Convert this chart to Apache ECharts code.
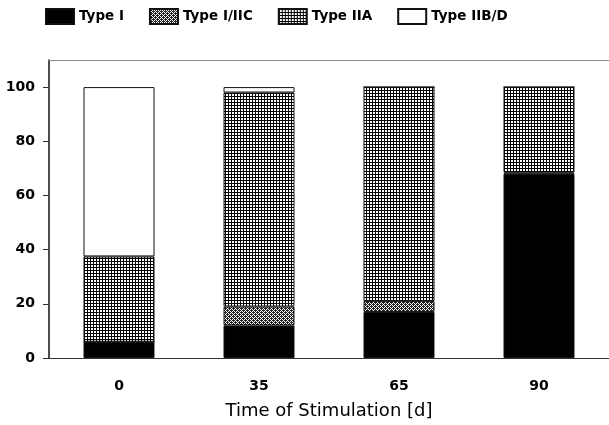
<!DOCTYPE html>
<html>
<head>
<meta charset="utf-8">
<script src="https://cdn.jsdelivr.net/npm/echarts@6/dist/echarts.min.js"></script>
<style>
  html, body { margin: 0; padding: 0; background: #fff; }
  #chart { width: 609px; height: 425px; }
</style>
</head>
<body>
<div id="chart"></div>
<script>
// Fibre-type composition (%) after days of stimulation
const days = ['0', '35', '65', '90'];
const typeI = [6, 12, 17, 68];
const typeIIIC = [0, 7, 4, 0.5];
const typeIIA = [31.5, 79, 79, 31.5];
const typeIIBD = [62.5, 2, 0, 0];
const yTicks = [0, 20, 40, 60, 80, 100];

// Small tiled canvases used as hatch fills
function makeTile(size, paint) {
  const c = document.createElement('canvas');
  c.width = size; c.height = size;
  const g = c.getContext('2d');
  g.fillStyle = '#fff';
  g.fillRect(0, 0, size, size);
  g.fillStyle = '#000';
  paint(g);
  return { image: c, repeat: 'repeat' };
}
// fine cross-hatch grid
const gridFill = makeTile(3, g => {
  g.fillRect(0, 0, 3, 1);
  g.fillRect(0, 0, 1, 3);
});
// dense stipple
const stippleFill = makeTile(4, g => {
  g.fillStyle = '#222';
  g.fillRect(0, 0, 1, 1); g.fillRect(2, 0, 1, 1);
  g.fillRect(1, 1, 1, 1); g.fillRect(3, 1, 1, 1);
  g.fillRect(0, 2, 1, 1); g.fillRect(2, 2, 1, 1);
  g.fillRect(1, 3, 1, 1); g.fillRect(3, 3, 1, 1);
  g.fillRect(1, 0, 1, 1); g.fillRect(3, 2, 1, 1);
});

const tickFont = { fontFamily: 'DejaVu Sans', fontWeight: 'bold', fontSize: 14, color: '#000' };

function bar(name, data, fill) {
  return {
    name, type: 'bar', stack: 'total', data,
    barWidth: 71,
    itemStyle: { color: fill, borderColor: '#111', borderWidth: 1 },
    emphasis: { disabled: true }
  };
}

const chart = echarts.init(document.getElementById('chart'), null, { renderer: 'canvas' });
chart.setOption({
  animation: false,
  backgroundColor: '#fff',
  legend: {
    left: 40, top: 3,
    itemWidth: 28, itemHeight: 15, itemGap: 25,
    icon: 'rect',
    textStyle: { fontFamily: 'DejaVu Sans', fontWeight: 'bold', fontSize: 13.5, color: '#000' },
    data: ['Type I', 'Type I/IIC', 'Type IIA', 'Type IIB/D']
  },
  grid: { left: 49, right: -4, top: 60, bottom: 59 },
  xAxis: [{
    type: 'category',
    data: days,
    name: 'Time of Stimulation [d]',
    nameLocation: 'middle',
    nameGap: 44,
    nameTextStyle: { fontFamily: 'DejaVu Sans', fontSize: 18, color: '#000' },
    axisLine: { lineStyle: { color: '#333', width: 1.2 } },
    axisTick: { alignWithLabel: true, length: 6, lineStyle: { color: '#333' } },
    axisLabel: Object.assign({ margin: 21 }, tickFont)
  }, {
    type: 'category',
    data: days,
    position: 'top',
    axisLine: { show: true, lineStyle: { color: '#888', width: 1 } },
    axisTick: { show: false },
    axisLabel: { show: false }
  }],
  yAxis: {
    type: 'value',
    min: 0, max: 110, interval: 20,
    axisLine: { show: true, lineStyle: { color: '#111', width: 1.5 } },
    axisTick: { show: true, length: 6, customValues: yTicks, lineStyle: { color: '#333' } },
    splitLine: { show: false },
    axisLabel: Object.assign({ margin: 14, customValues: yTicks }, tickFont)
  },
  series: [
    bar('Type I', typeI, '#000'),
    bar('Type I/IIC', typeIIIC, stippleFill),
    bar('Type IIA', typeIIA, gridFill),
    bar('Type IIB/D', typeIIBD, '#fff')
  ]
});
</script>
</body>
</html>
